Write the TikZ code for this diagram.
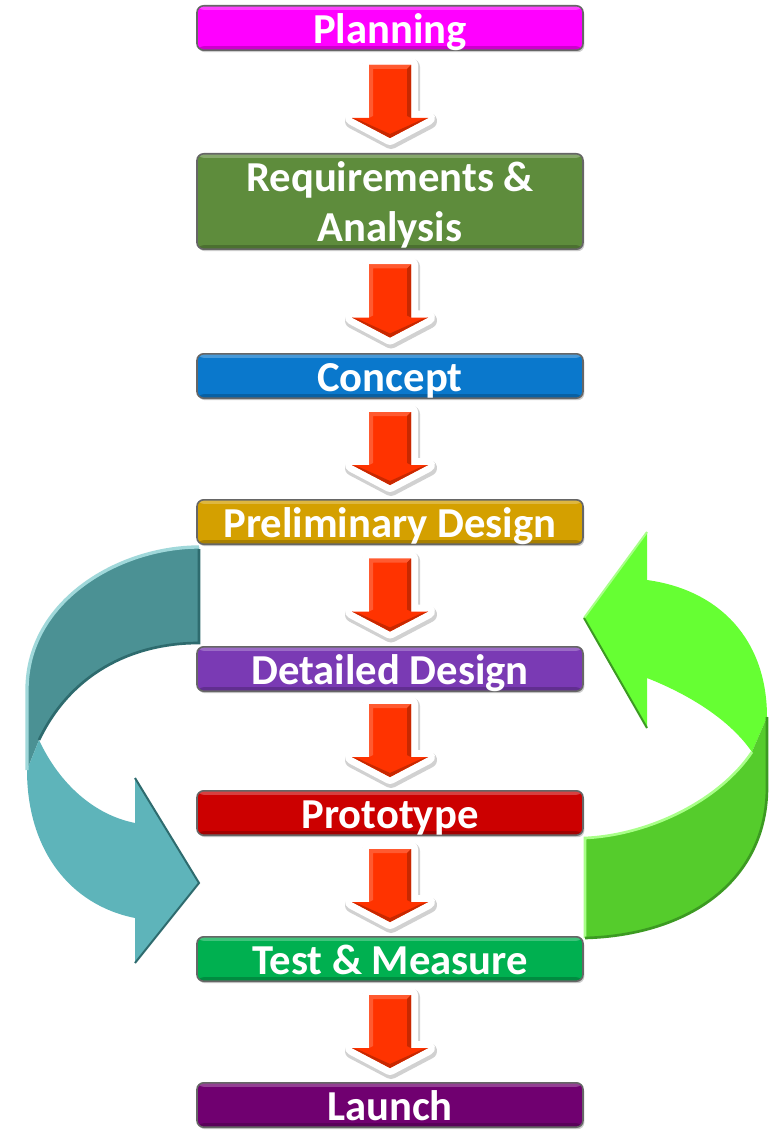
\documentclass[tikz,border=0pt]{standalone}
\usepackage{fontspec}
\setmainfont{Carlito}
\usetikzlibrary{positioning,calc,shadows}
\definecolor{planfill}{HTML}{FF00FF}
\definecolor{reqfill}{HTML}{5E8C3C}
\definecolor{conceptfill}{HTML}{0A78CC}
\definecolor{prelimfill}{HTML}{D4A000}
\definecolor{detailfill}{HTML}{7A3AB4}
\definecolor{protofill}{HTML}{CC0000}
\definecolor{testfill}{HTML}{00B050}
\definecolor{launchfill}{HTML}{700070}
\definecolor{flowred}{HTML}{FF3300}
\definecolor{flowredlt}{HTML}{FF5A30}
\definecolor{flowreddk}{HTML}{C82800}
\definecolor{tealdark}{HTML}{4B9194}
\definecolor{teallight}{HTML}{5EB4BA}
\definecolor{tealedge}{HTML}{A0D8DA}
\definecolor{tealshade}{HTML}{2E6B6E}
\definecolor{limelight}{HTML}{66FF33}
\definecolor{limedark}{HTML}{55CC2C}
\definecolor{limeedge}{HTML}{A8FF88}
\definecolor{limeshade}{HTML}{3C9A22}
\tikzset{
    stage/.style={draw=black!60,line width=1.2pt,rounded corners=5pt,
        minimum width=289.5pt,minimum height=33.3pt,inner sep=0pt,
        text=white,align=center,font=\bfseries\fontsize{32pt}{37.5pt}\selectfont,
        drop shadow={shadow xshift=1pt,shadow yshift=-1.5pt,opacity=0.4},
        path picture={
            \fill[white,opacity=0.25] (path picture bounding box.north west) rectangle ([yshift=-3pt]path picture bounding box.north east);
            \fill[black,opacity=0.2] ([yshift=3pt]path picture bounding box.south west) rectangle (path picture bounding box.south east);
        }},
    oneline/.style={text height=23.5pt,text depth=0.5pt},
    flowrim/.style={line width=10.5pt,line join=round,white},
    flowshadow/.style={line width=12pt,line join=round,black,opacity=0.18}
}
\begin{document}
\begin{tikzpicture}[x=0.75pt,y=-0.75pt,node distance=75pt]
    \useasboundingbox[fill=white] (0,0) rectangle (780,1130);

    % feedback loop, left
    \fill[tealdark] (199,547) .. controls (120,547) and (27,600) .. (27,690) -- (27,770) -- (39,740)
        .. controls (70,675) and (130,643) .. (199,643) -- cycle;
    \fill[teallight] (39,740) -- (27,770) .. controls (27,850) and (70,905) .. (135,918) -- (135,963) -- (199,883)
        -- (135,778) -- (135,823) .. controls (95,815) and (60,785) .. (39,740) -- cycle;
    \draw[tealedge,line width=2.5pt] (199,547) .. controls (120,547) and (27,600) .. (27,690) -- (27,770);
    \draw[tealshade,line width=2pt] (199,549) -- (199,643) .. controls (130,643) and (70,675) .. (39,740);
    \draw[tealshade,line width=1.5pt] (135,963) -- (199,883) -- (135,778);

    % feedback loop, right
    \fill[limelight] (647,580) -- (647,532) -- (584,618) -- (647,728) -- (647,678)
        .. controls (690,695) and (730,720) .. (752,752) -- (767,717) .. controls (767,640) and (720,590) .. (647,580) -- cycle;
    \fill[limedark] (585,838) -- (585,938) .. controls (690,935) and (767,880) .. (767,787) -- (767,717) -- (752,752)
        .. controls (720,800) and (650,835) .. (585,838) -- cycle;
    \draw[limeedge,line width=2pt] (585,938) -- (585,838) .. controls (650,835) and (720,800) .. (752,752);
    \draw[limeedge,line width=1.5pt] (647,532) -- (584,618);
    \draw[limeshade,line width=2pt] (585,938) .. controls (690,935) and (767,880) .. (767,787) -- (767,717);
    \draw[limeshade,line width=1.5pt] (584,618) -- (647,728);

    % stages
    \node[stage,oneline,fill=planfill] (plan) at (390,28) {Planning};
    \node[stage,fill=reqfill,minimum height=71.55pt,text depth=0.5pt,below=76.5pt of plan] (req) {Requirements \&\\Analysis};
    \node[stage,oneline,fill=conceptfill,below=77.25pt of req] (concept) {Concept};
    \node[stage,oneline,fill=prelimfill,below=of concept] (prelim) {Preliminary Design};
    \node[stage,oneline,fill=detailfill,below=75.75pt of prelim] (detail) {Detailed Design};
    \node[stage,oneline,fill=protofill,below=73.5pt of detail] (proto) {Prototype};
    \node[stage,oneline,fill=testfill,below=of proto] (test) {Test \& Measure};
    \node[stage,oneline,fill=launchfill,below=of test] (launch) {Launch};

    % block arrows between stages
    \foreach \a/\b in {plan/req,req/concept,concept/prelim,prelim/detail,detail/proto,proto/test,test/launch}{
        \begin{scope}[shift={($(\a.south)!0.5!(\b.north)$)}]
            \draw[flowshadow] (-20,-35) -- (22,-35) -- (22,19) -- (39,19) -- (1,39) -- (-37,19) -- (-20,19) -- cycle;
            \draw[flowrim] (-21,-37) -- (21,-37) -- (21,16) -- (38,16) -- (0,36) -- (-38,16) -- (-21,16) -- cycle;
            \fill[flowred] (-21,-37) -- (21,-37) -- (21,16) -- (38,16) -- (0,36) -- (-38,16) -- (-21,16) -- cycle;
            \fill[flowredlt] (-21,-37) -- (21,-37) -- (17,-33) -- (-17,-33) -- (-17,14) -- (-21,16) -- cycle;
            \fill[flowreddk] (21,-37) -- (17,-33) -- (17,14) -- (21,16) -- cycle;
            \fill[flowreddk] (-38,16) -- (0,36) -- (38,16) -- (31,18) -- (0,32) -- (-31,18) -- cycle;
        \end{scope}
    }
\end{tikzpicture}
\end{document}
